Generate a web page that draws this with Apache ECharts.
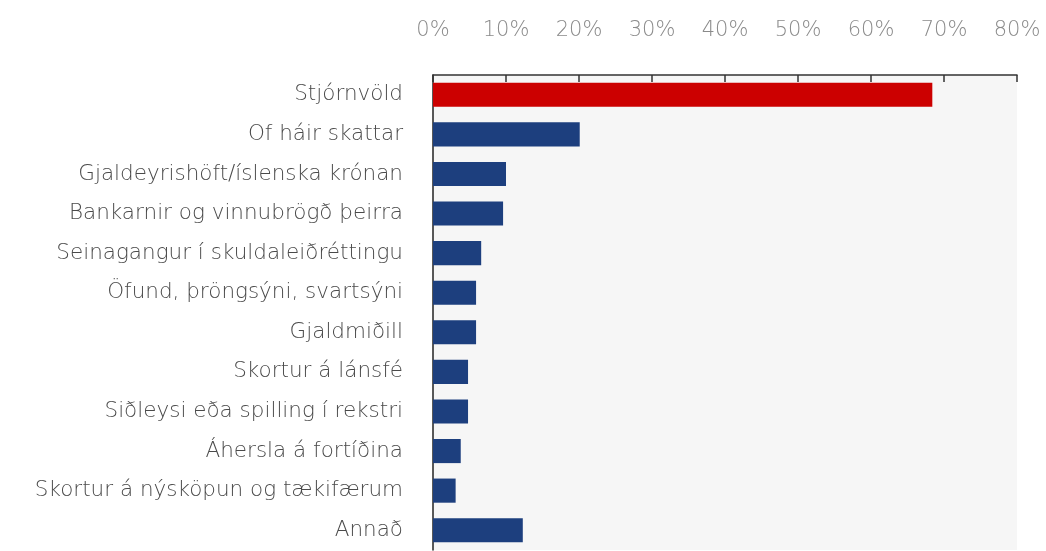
<!DOCTYPE html>
<html>
<head>
<meta charset="utf-8">
<script src="https://cdn.jsdelivr.net/npm/echarts@6/dist/echarts.min.js"></script>
<style>
html,body{margin:0;padding:0;background:#fff;}
#chart{width:1046px;height:551px;}
</style>
</head>
<body>
<div id="chart"></div>
<script>
const categories = [
  "Stjórnvöld",
  "Of háir skattar",
  "Gjaldeyrishöft/íslenska krónan",
  "Bankarnir og vinnubrögð þeirra",
  "Seinagangur í skuldaleiðréttingu",
  "Öfund, þröngsýni, svartsýni",
  "Gjaldmiðill",
  "Skortur á lánsfé",
  "Siðleysi eða spilling í rekstri",
  "Áhersla á fortíðina",
  "Skortur á nýsköpun og tækifærum",
  "Annað"
];
const values = [68.4, 20.1, 10.0, 9.6, 6.6, 5.9, 5.9, 4.8, 4.8, 3.8, 3.1, 12.3];
const highlightCategory = "Stjórnvöld";
const xTicks = [0, 10, 20, 30, 40, 50, 60, 70, 80];

const chart = echarts.init(document.getElementById('chart'), null, {renderer: 'canvas'});
const font = "'DejaVu Sans', sans-serif";
chart.setOption({
  animation: false,
  grid: {
    left: 433, right: 29, top: 75, bottom: 1,
    show: true, backgroundColor: '#f6f6f6', borderWidth: 0
  },
  xAxis: {
    type: 'value', position: 'top',
    min: xTicks[0], max: xTicks[xTicks.length - 1], interval: 10,
    axisLine: {show: true, lineStyle: {color: '#333', width: 1.5}},
    axisTick: {show: true, inside: true, length: 7, lineStyle: {color: '#333', width: 1.5}},
    splitLine: {show: false},
    axisLabel: {
      formatter: v => v + '%', margin: 34,
      color: '#8a8a8a', fontSize: 21, fontFamily: font, fontWeight: 200
    }
  },
  yAxis: {
    type: 'category', data: categories, inverse: true,
    axisLine: {show: true, lineStyle: {color: '#222', width: 1.5}},
    axisTick: {show: false},
    axisLabel: {margin: 30, color: '#4a4a4a', fontSize: 21.5, fontFamily: font, fontWeight: 200}
  },
  series: [{
    type: 'bar',
    data: values.map((v, i) => ({
      value: v,
      itemStyle: {color: categories[i] === highlightCategory ? '#cc0000' : '#1d3f7e'}
    })),
    barCategoryGap: '39%'
  }]
});
</script>
</body>
</html>
